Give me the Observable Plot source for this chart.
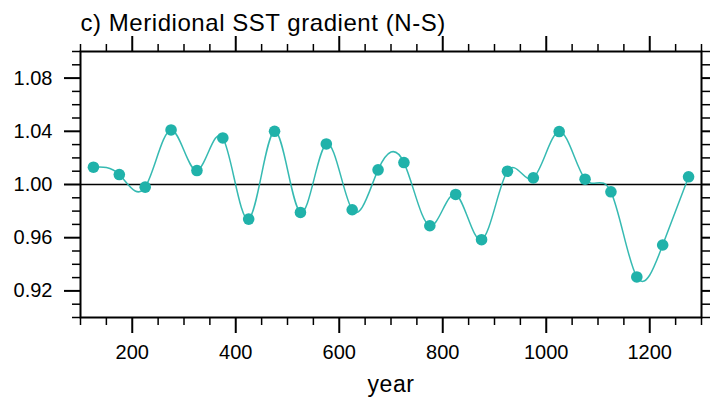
<!DOCTYPE html>
<html>
<head>
<meta charset="utf-8">
<script src="https://cdn.jsdelivr.net/npm/d3@7"></script>
<script src="https://cdn.jsdelivr.net/npm/@observablehq/plot@0.6"></script>
<style>
  html, body { margin: 0; padding: 0; background: #fff; }
  svg { display: block; }
  svg g[aria-label="text"] text { letter-spacing: 0.55px; }
</style>
</head>
<body>
<div id="chart"></div>
<script>
const titleText = "c) Meridional SST gradient (N-S)";
const xLabelText = "year";
const years = [125, 175, 225, 275, 325, 375, 425, 475, 525, 575, 625, 675,
               725, 775, 825, 875, 925, 975, 1025, 1075, 1125, 1175, 1225, 1275];
const values = [1.013, 1.0075, 0.998, 1.041, 1.0105, 1.035, 0.974, 1.040, 0.979, 1.0305, 0.981, 1.011,
                1.0165, 0.969, 0.9925, 0.9585, 1.010, 1.005, 1.0398, 1.004, 0.9945, 0.9305, 0.9545, 1.0058];
const xMajorTicks = [200, 400, 600, 800, 1000, 1200];
const xMinorTicks = [100, 150, 250, 300, 350, 450, 500, 550, 650, 700, 750, 850, 900, 950, 1050, 1100, 1150, 1250, 1300];
const yMajorTicks = [0.92, 0.96, 1.00, 1.04, 1.08];
const yMinorTicks = [0.90, 0.91, 0.93, 0.94, 0.95, 0.97, 0.98, 0.99, 1.01, 1.02, 1.03, 1.05, 1.06, 1.07, 1.09, 1.10];
const referenceLevel = [1.0];

const data = years.map((year, i) => ({year, value: values[i]}));
const teal = "#20b2aa";
const font = "'Liberation Sans', Arial, Helvetica, sans-serif";

const chart = Plot.plot({
  width: 710,
  height: 398,
  marginLeft: 80,
  marginRight: 9,
  marginTop: 51,
  marginBottom: 81,
  style: {fontFamily: font, color: "#000", background: "#fff"},
  x: {domain: [100, 1300]},
  y: {domain: [0.90, 1.10]},
  marks: [
    Plot.ruleY(referenceLevel, {stroke: "#000", strokeWidth: 1.5}),
    Plot.line(data, {x: "year", y: "value", curve: "natural", stroke: teal, strokeWidth: 1.5, strokeOpacity: 0.9}),
    Plot.dot(data, {x: "year", y: "value", r: 5.8, fill: teal, stroke: "none"}),
    Plot.frame({stroke: "#000", strokeWidth: 2}),
    // bottom axis
    Plot.axisX({anchor: "bottom", ticks: xMajorTicks, tickSize: 16, tickPadding: 11, tickFormat: d => String(d),
                fontSize: 20, strokeWidth: 2, label: null}),
    Plot.axisX({anchor: "bottom", ticks: xMinorTicks, tickSize: 8, text: null, strokeWidth: 1.5, label: null}),
    // top axis
    Plot.axisX({anchor: "top", ticks: xMajorTicks, tickSize: 16, text: null, strokeWidth: 2, label: null}),
    Plot.axisX({anchor: "top", ticks: xMinorTicks, tickSize: 8, text: null, strokeWidth: 1.5, label: null}),
    // left axis
    Plot.axisY({anchor: "left", ticks: yMajorTicks, tickSize: 16, tickPadding: 12, tickFormat: d => d.toFixed(2),
                fontSize: 20, strokeWidth: 2, label: null}),
    Plot.axisY({anchor: "left", ticks: yMinorTicks, tickSize: 8, text: null, strokeWidth: 1.5, label: null}),
    // right axis
    Plot.axisY({anchor: "right", ticks: yMajorTicks, tickSize: 16, text: null, strokeWidth: 2, label: null}),
    Plot.axisY({anchor: "right", ticks: yMinorTicks, tickSize: 8, text: null, strokeWidth: 1.5, label: null}),
    // title
    Plot.text([titleText], {frameAnchor: "top-left", textAnchor: "start", lineAnchor: "bottom",
                            dy: -21, fontSize: 24, fill: "#000"}),
    // x label
    Plot.text([xLabelText], {frameAnchor: "bottom", textAnchor: "middle", lineAnchor: "bottom",
                             dy: 74, fontSize: 23, fill: "#000"})
  ]
});
document.getElementById("chart").appendChild(chart);
</script>
</body>
</html>
